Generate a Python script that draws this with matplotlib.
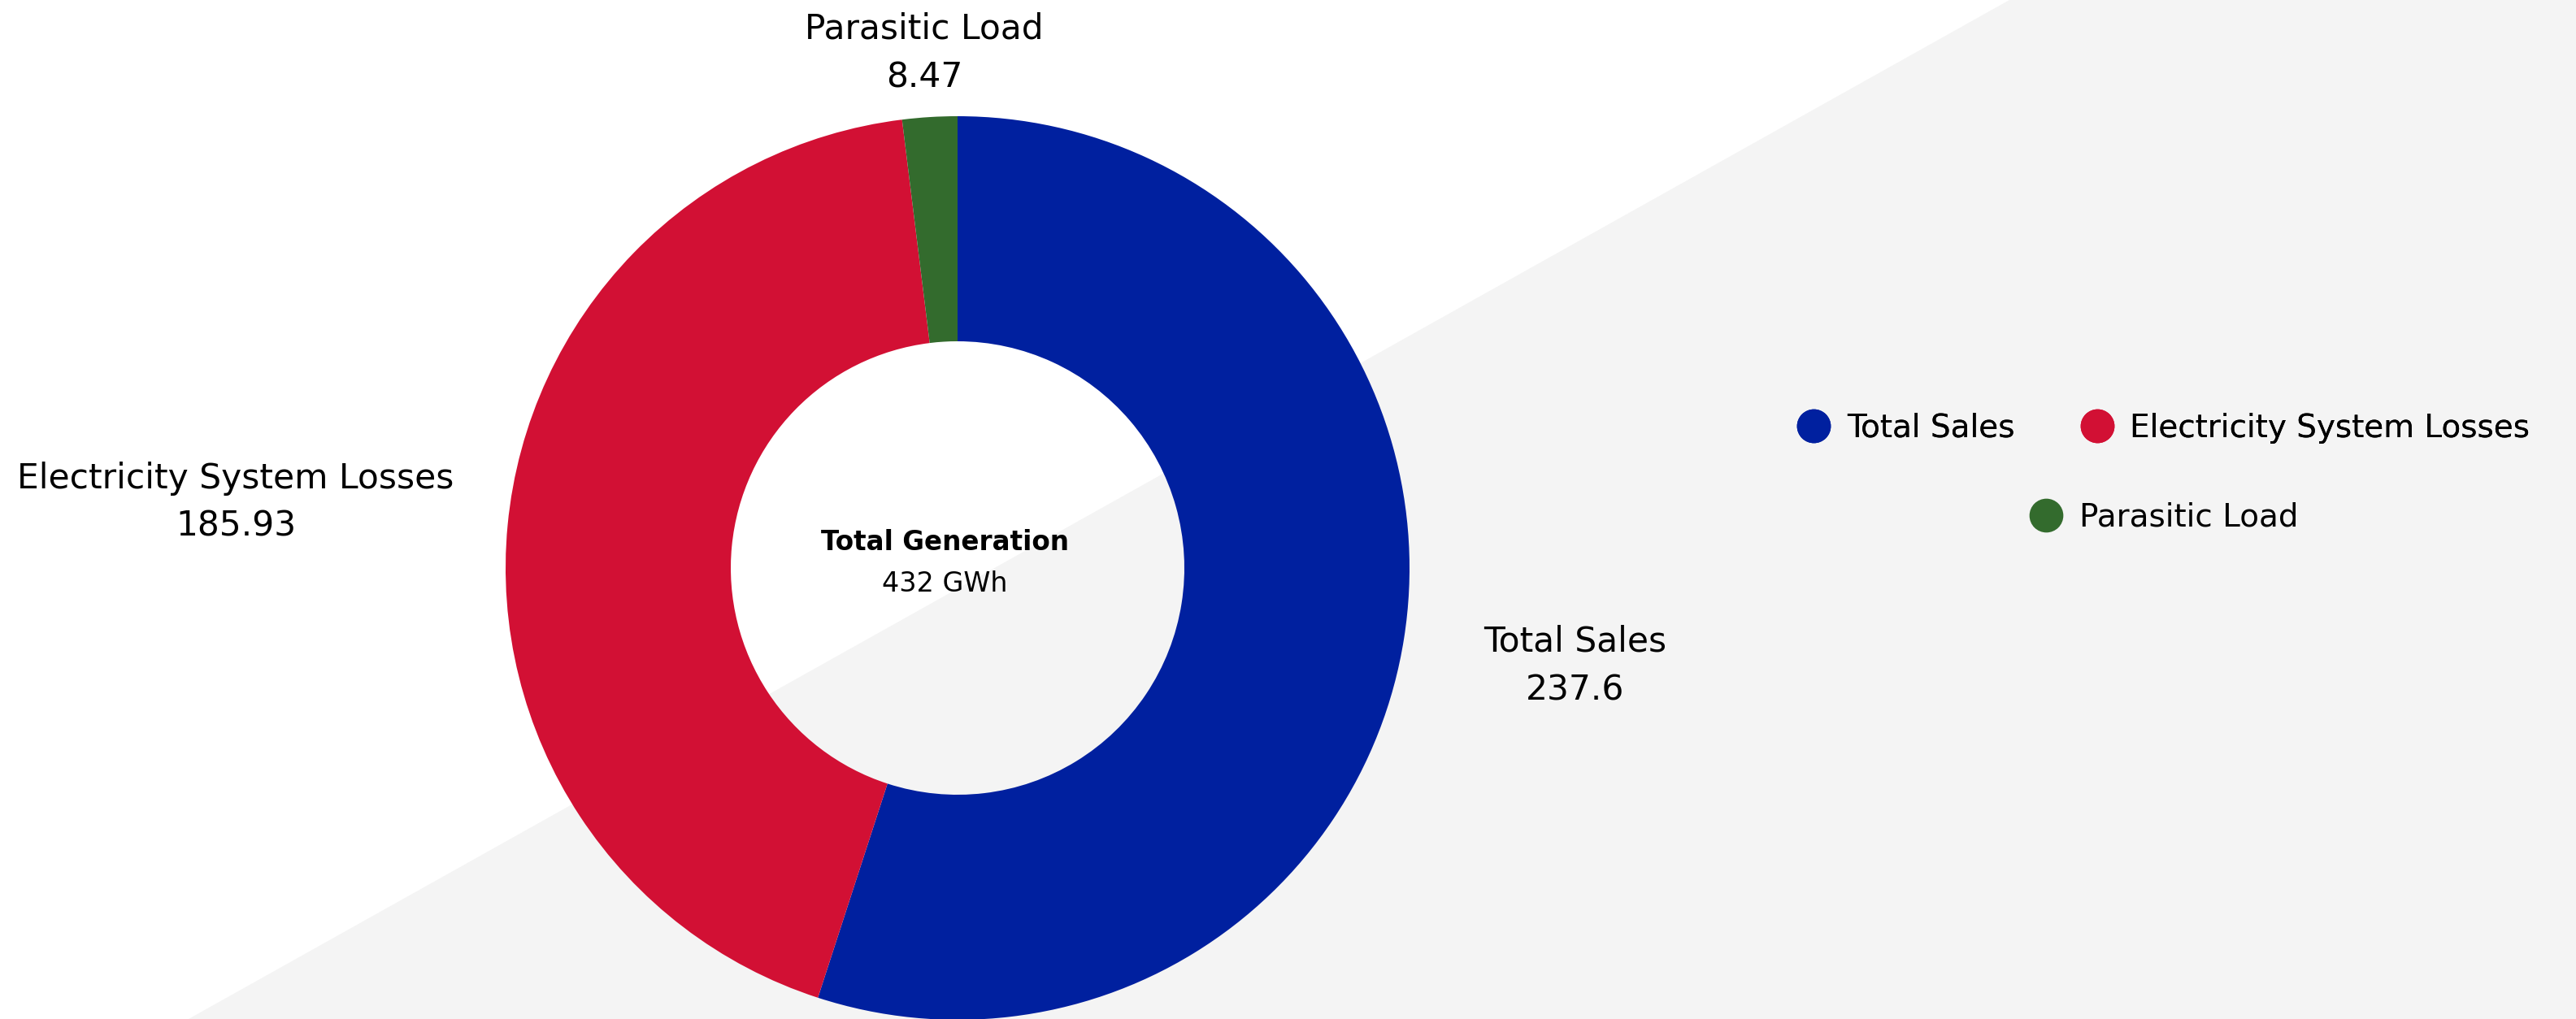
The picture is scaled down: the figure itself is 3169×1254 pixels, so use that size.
import matplotlib.pyplot as plt
from matplotlib.lines import Line2D
from matplotlib.patches import Polygon

W, H = 3169, 1254

names = ['Total Sales', 'Electricity System Losses', 'Parasitic Load']
values = [237.6, 185.93, 8.47]
colors = ['#00209F', '#D21034', '#336B2D']
total = sum(values)

plt.rcParams['font.family'] = ['DejaVu Sans']

fig = plt.figure(figsize=(W / 100, H / 100), dpi=100)
fig.patch.set_facecolor('white')
ax = fig.add_axes([0, 0, 1, 1])

# donut, y axis runs upwards in pixel units
cx, cy = 1178, H - 699
r_out, r_in = 556, 279
ax.pie(values, colors=colors, startangle=90, counterclock=False,
       center=(cx, cy), radius=r_out,
       wedgeprops=dict(width=r_out - r_in, linewidth=0))

ax.set_xlim(0, W)
ax.set_ylim(0, H)
ax.set_aspect('equal')
ax.axis('off')

# grey diagonal backdrop
bg = Polygon([(232, 0), (2472, H), (W, H), (W, 0)], closed=True,
             facecolor='#f4f4f4', edgecolor='none', zorder=-10)
ax.add_patch(bg)

# slice labels: (x, baseline of name, baseline of value) in pixels from top
label_pos = [(1938, 802, 861), (290, 601, 660), (1137, 47, 107)]
for name, v, (x, y1, y2) in zip(names, values, label_pos):
    ax.text(x, H - y1, name, ha='center', va='baseline', fontsize=30.5)
    ax.text(x, H - y2, f'{v:g}', ha='center', va='baseline', fontsize=30.5)

# centre caption
ax.text(1162, H - 677, 'Total Generation', ha='center', va='baseline',
        fontsize=23.5, fontweight='bold')
ax.text(1162, H - 728, f'{total:.0f} GWh', ha='center', va='baseline',
        fontsize=24)

handles = [Line2D([], [], linestyle='none', marker='o', markersize=29,
                  markerfacecolor=c, markeredgecolor=c) for c in colors]
leg_kw = dict(frameon=False, fontsize=28, handlelength=0.6,
              handletextpad=0.75, columnspacing=2.3, loc='center')
leg1 = fig.legend(handles[:2], names[:2], ncol=2,
                  bbox_to_anchor=(2666 / W, 1 - 527 / H), **leg_kw)
fig.legend(handles[2:], names[2:], ncol=1,
           bbox_to_anchor=(2666 / W, 1 - 637 / H), **leg_kw)
fig.add_artist(leg1)

fig.savefig('out.png', dpi=100)
